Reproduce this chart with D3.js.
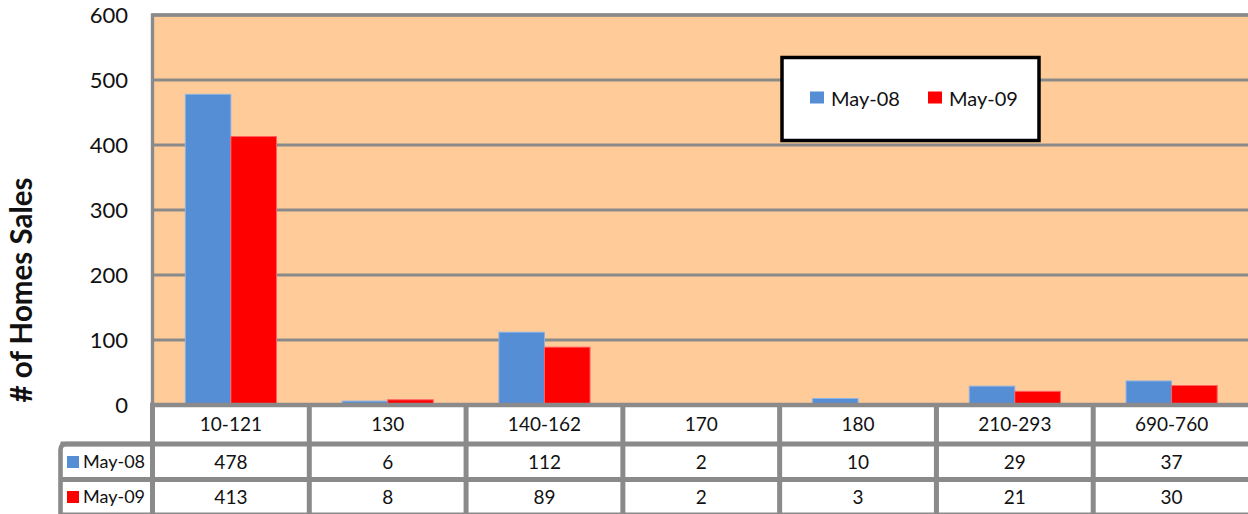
<!DOCTYPE html>
<html>
<head>
<meta charset="utf-8">
<script src="https://cdn.jsdelivr.net/npm/d3@7"></script>
<style>
  html, body { margin: 0; padding: 0; background: #fff; }
  text { font-family: Lato, "Open Sans", sans-serif; fill: #111; }
</style>
</head>
<body>
<div id="chart"></div>
<script>
const width = 1248;
const height = 514;

// chart values
const categories = ["10-121", "130", "140-162", "170", "180", "210-293", "690-760"];
const seriesNames = ["May-08", "May-09"];
const may08 = [478, 6, 112, 2, 10, 29, 37];
const may09 = [413, 8, 89, 2, 3, 21, 30];
const yTicks = [0, 100, 200, 300, 400, 500, 600];
const colors = ["#558ed5", "#ff0000"];

const values = [may08, may09];
const gridColor = "#8a8a8a";

const svg = d3.select("#chart").append("svg")
    .attr("width", width).attr("height", height);

const x = d3.scaleBand().domain(categories).range([152.5, 1250]).padding(0);
const xInner = d3.scaleBand().domain(seriesNames).range([0, x.bandwidth()])
    .paddingInner(0).paddingOuter(0.72);
const y = d3.scaleLinear().domain([0, 600]).range([405, 15]);

// plot background
svg.append("rect")
    .attr("x", x.range()[0]).attr("y", y(600))
    .attr("width", x.range()[1] - x.range()[0]).attr("height", y(0) - y(600))
    .attr("fill", "#ffcc99");

// gridlines
svg.append("g").selectAll("line")
    .data(yTicks.filter(d => d > 0))
    .enter().append("line")
    .attr("x1", x.range()[0]).attr("x2", x.range()[1])
    .attr("y1", d => y(d)).attr("y2", d => y(d))
    .attr("stroke", gridColor).attr("stroke-width", 3.2);

// bars
const groups = svg.append("g").selectAll("g")
    .data(categories)
    .enter().append("g")
    .attr("transform", d => `translate(${x(d)},0)`);

groups.selectAll("rect")
    .data((c, i) => seriesNames.map((s, j) => ({ s, j, v: values[j][i] })))
    .enter().append("rect")
    .attr("x", d => xInner(d.s))
    .attr("y", d => y(d.v))
    .attr("width", xInner.bandwidth())
    .attr("height", d => y(0) - y(d.v))
    .attr("fill", d => colors[d.j])
    .attr("stroke", d => d.j === 0 ? "#8fb3e3" : "#ff6060")
    .attr("stroke-width", d => d.v > 5 ? 1 : 0);

// y tick labels
svg.append("g").selectAll("text")
    .data(yTicks)
    .enter().append("text")
    .attr("x", 128).attr("y", d => y(d))
    .attr("dy", "0.36em")
    .attr("text-anchor", "end")
    .style("font-size", "22px")
    .text(d => d);

// y axis title
svg.append("text")
    .attr("transform", "translate(32,290) rotate(-90)")
    .attr("text-anchor", "middle")
    .style("font-size", "29.5px").style("font-weight", "bold")
    .text("# of Homes Sales");

// data table
const rowY = [405, 444, 479.5, 515];
const rowMid = [424.5, 462, 497];
const table = svg.append("g");

table.append("rect")
    .attr("x", 60.5).attr("y", rowY[1])
    .attr("width", x.range()[1] - 60.5).attr("height", height - rowY[1])
    .attr("fill", "#fff");

// horizontal rules
table.selectAll("line.h")
    .data(rowY.slice(1, 3))
    .enter().append("line")
    .attr("x1", 60.5).attr("x2", x.range()[1])
    .attr("y1", d => d).attr("y2", d => d)
    .attr("stroke", gridColor).attr("stroke-width", 5.2);

// vertical rules
table.selectAll("line.v")
    .data(categories.map(c => x(c)))
    .enter().append("line")
    .attr("x1", d => d).attr("x2", d => d)
    .attr("y1", rowY[0]).attr("y2", height)
    .attr("stroke", gridColor).attr("stroke-width", 5);

table.append("path")
    .attr("d", `M60.5,${height} V${rowY[1] + 6} Q60.5,${rowY[1]} 66.5,${rowY[1]} H${x.range()[0]}`)
    .attr("fill", "none")
    .attr("stroke", gridColor).attr("stroke-width", 4.6);

table.append("line")
    .attr("x1", 60.5).attr("x2", x.range()[1])
    .attr("y1", height - 0.5).attr("y2", height - 0.5)
    .attr("stroke", gridColor).attr("stroke-width", 2);

// plot left and top border, axis line
svg.append("path")
    .attr("d", `M${x.range()[0]},${y(0)} V${y(600)} H${x.range()[1]}`)
    .attr("fill", "none")
    .attr("stroke", gridColor).attr("stroke-width", 3.4);

svg.append("line")
    .attr("x1", x.range()[0] - 2.5).attr("x2", x.range()[1])
    .attr("y1", y(0)).attr("y2", y(0))
    .attr("stroke", gridColor).attr("stroke-width", 4.6);

// category labels
table.selectAll("text.cat")
    .data(categories)
    .enter().append("text")
    .attr("x", d => x(d) + x.bandwidth() / 2)
    .attr("y", rowMid[0]).attr("dy", "0.36em")
    .attr("text-anchor", "middle")
    .style("font-size", "19px")
    .text(d => d);

// value rows
seriesNames.forEach((s, j) => {
    table.selectAll(null)
        .data(values[j])
        .enter().append("text")
        .attr("x", (d, i) => x(categories[i]) + x.bandwidth() / 2)
        .attr("y", rowMid[j + 1]).attr("dy", "0.36em")
        .attr("text-anchor", "middle")
        .style("font-size", "19px")
        .text(d => d);

    table.append("rect")
        .attr("x", 67).attr("y", rowMid[j + 1] - 6)
        .attr("width", 12).attr("height", 12)
        .attr("fill", colors[j]);

    table.append("text")
        .attr("x", 83).attr("y", rowMid[j + 1]).attr("dy", "0.36em")
        .style("font-size", "18px")
        .text(s);
});

// legend
const legend = svg.append("g");
legend.append("rect")
    .attr("x", 782).attr("y", 57.5)
    .attr("width", 257).attr("height", 83)
    .attr("fill", "#fff")
    .attr("stroke", "#000").attr("stroke-width", 3.5);

const legendX = [810, 928];
seriesNames.forEach((s, j) => {
    legend.append("rect")
        .attr("x", legendX[j]).attr("y", 91.5)
        .attr("width", 14).attr("height", 12)
        .attr("fill", colors[j]);
    legend.append("text")
        .attr("x", legendX[j] + 21).attr("y", 99).attr("dy", "0.36em")
        .style("font-size", "20px")
        .text(s);
});
</script>
</body>
</html>
